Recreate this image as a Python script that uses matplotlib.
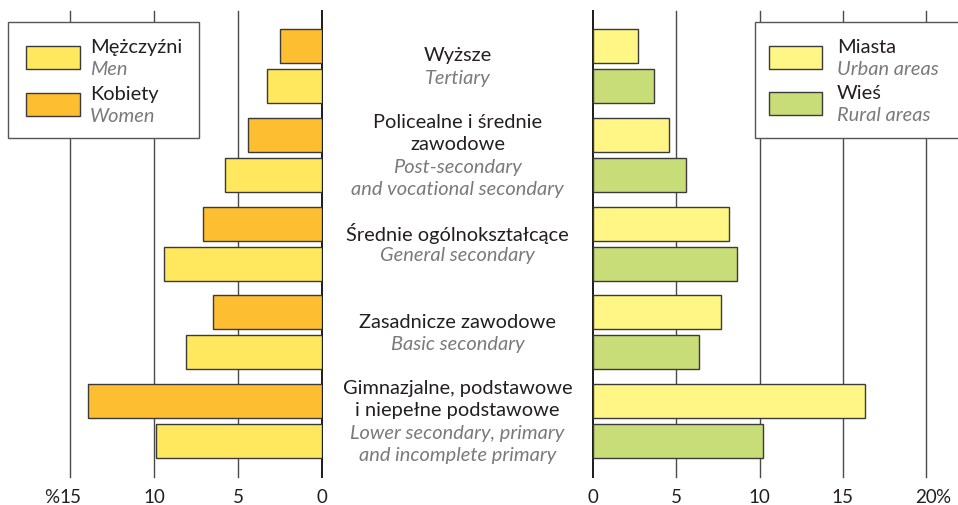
import matplotlib
matplotlib.use("Agg")
import matplotlib.pyplot as plt
from matplotlib.patches import Rectangle

plt.rcParams['font.family'] = ['Lato', 'DejaVu Sans']

# ---- data ----
cat_pl = ["Wyższe", "Policealne i średnie\nzawodowe", "Średnie ogólnokształcące",
          "Zasadnicze zawodowe", "Gimnazjalne, podstawowe\ni niepełne podstawowe"]
cat_en = ["Tertiary", "Post-secondary\nand vocational secondary", "General secondary",
          "Basic secondary", "Lower secondary, primary\nand incomplete primary"]
women = [2.5, 4.4, 7.1, 6.5, 13.9]
men = [3.3, 5.8, 9.4, 8.1, 9.9]
urban = [2.7, 4.55, 8.15, 7.7, 16.35]
rural = [3.65, 5.6, 8.65, 6.35, 10.2]
left_ticks = [0, 5, 10, 15]
right_ticks = [0, 5, 10, 15, 20]

C_MEN = "#FFE75E"
C_WOMEN = "#FDBE32"
C_URBAN = "#FFF685"
C_RURAL = "#C8DC78"
EDGE = "#3a3a3a"
TXT = "#231f20"
GRAY = "#7a7a7a"

W, H = 958, 506
fig = plt.figure(figsize=(W / 100, H / 100), dpi=100)


def fx(px):
    return px / W


def fy(py):
    return 1 - py / H


top_px, bot_px = 12, 478
axL = fig.add_axes([fx(70), fy(bot_px), fx(322) - fx(70), (bot_px - top_px) / H])
axR = fig.add_axes([fx(593), fy(bot_px), fx(926) - fx(593), (bot_px - top_px) / H])

n = len(cat_pl)
ys = list(range(n))
off = 0.225
bh = 0.383
FS = 14.4
TFS = 13.5

for ax, ticks, lim in ((axL, left_ticks, (15, 0)), (axR, right_ticks, (0, 20))):
    ax.set_xlim(*lim)
    ax.set_ylim(4.63, -0.62)
    for s in ax.spines.values():
        s.set_visible(False)
    ax.set_yticks([])
    ax.set_xticks(ticks)
    ax.set_xticklabels([str(t) for t in ticks], fontsize=TFS, color=TXT)
    ax.tick_params(axis='x', length=0, pad=8)
    for t in ticks:
        if t == 0:
            ax.axvline(t, color="#1a1a1a", lw=1.4, zorder=1, clip_on=False)
        else:
            ax.axvline(t, color="#4a4a4a", lw=1.0, zorder=1, clip_on=False)
    ax.patch.set_alpha(0)

axL.barh([y - off for y in ys], women, height=bh, color=C_WOMEN, edgecolor=EDGE, lw=1.0, zorder=3)
axL.barh([y + off for y in ys], men, height=bh, color=C_MEN, edgecolor=EDGE, lw=1.0, zorder=3)
axR.barh([y - off for y in ys], urban, height=bh, color=C_URBAN, edgecolor=EDGE, lw=1.0, zorder=3)
axR.barh([y + off for y in ys], rural, height=bh, color=C_RURAL, edgecolor=EDGE, lw=1.0, zorder=3)

# percent signs next to the outer tick labels
axL.annotate("%", xy=(15, 0), xycoords=('data', 'axes fraction'), xytext=(-7.5, -8),
             textcoords='offset points', ha='right', va='top', fontsize=TFS, color=TXT)
axR.annotate("%", xy=(20, 0), xycoords=('data', 'axes fraction'), xytext=(6.5, -8),
             textcoords='offset points', ha='left', va='top', fontsize=TFS, color=TXT)

# centre category labels
lh = 22.5 * 0.72  # line height in points
for i in range(n):
    lines = [(l, TXT, 'normal') for l in cat_pl[i].split("\n")] + \
            [(l, GRAY, 'italic') for l in cat_en[i].split("\n")]
    k = len(lines)
    for j, (txt, col, st) in enumerate(lines):
        o = -(j - (k - 1) / 2) * lh
        axL.annotate(txt, xy=(fx(457.5), i), xycoords=(fig.transFigure, axL.transData),
                     xytext=(0, o), textcoords='offset points', ha='center', va='center',
                     fontsize=FS, color=col, style=st, annotation_clip=False)

# legends
def legend_box(x0, y0, x1, y1, items, px0, px1, tx):
    fig.patches.append(Rectangle((fx(x0), fy(y1)), fx(x1) - fx(x0), (y1 - y0) / H,
                                 transform=fig.transFigure, facecolor='white',
                                 edgecolor='#555555', lw=1.0, zorder=5))
    for (pl, en, col, py0, py1) in items:
        fig.patches.append(Rectangle((fx(px0), fy(py1)), fx(px1) - fx(px0), (py1 - py0) / H,
                                     transform=fig.transFigure, facecolor=col,
                                     edgecolor=EDGE, lw=1.0, zorder=6))
        cy = (py0 + py1) / 2
        fig.text(fx(tx), fy(cy - 11), pl, ha='left', va='center', fontsize=FS, color=TXT, zorder=7)
        fig.text(fx(tx), fy(cy + 11), en, ha='left', va='center', fontsize=FS, color=GRAY,
                 style='italic', zorder=7)


legend_box(8, 23, 199, 139,
           [("Mężczyźni", "Men", C_MEN, 47, 70), ("Kobiety", "Women", C_WOMEN, 94, 117)],
           26, 80, 90)
legend_box(755, 23, 970, 139,
           [("Miasta", "Urban areas", C_URBAN, 47, 70), ("Wieś", "Rural areas", C_RURAL, 93, 116)],
           769, 822, 837)

fig.savefig("out.png", dpi=100)
